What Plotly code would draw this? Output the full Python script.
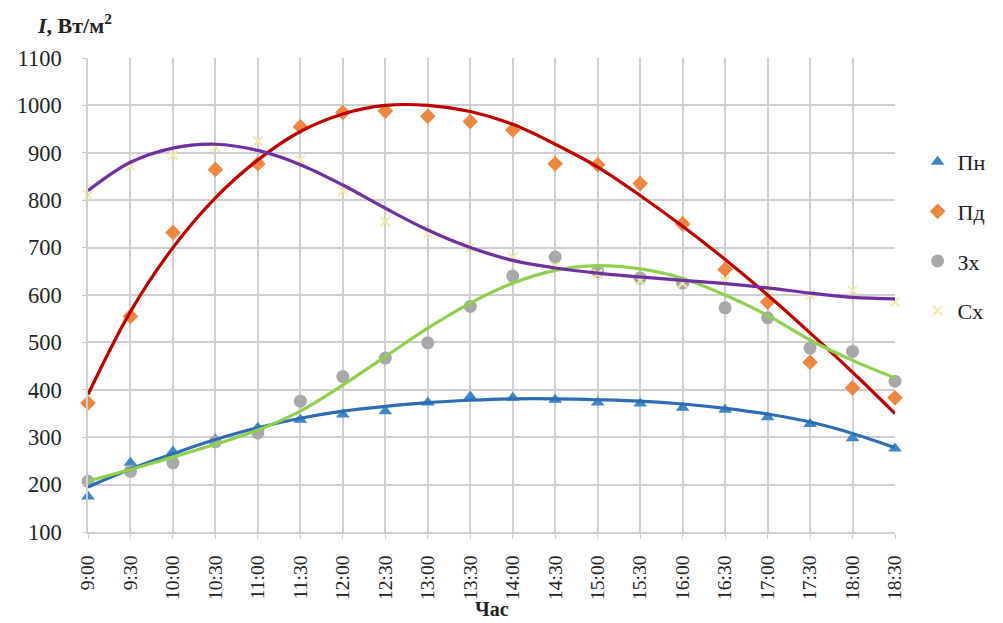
import plotly.graph_objects as go

# Half-hour time slots
times = ["9:00", "9:30", "10:00", "10:30", "11:00", "11:30", "12:00", "12:30",
         "13:00", "13:30", "14:00", "14:30", "15:00", "15:30", "16:00", "16:30",
         "17:00", "17:30", "18:00", "18:30"]

# Measured irradiance, W/m2, per facade orientation
pn = [175, 246, 270, 295, 320, 337, 348, 355, 373, 386, 383, 379, 373, 371, 362, 358,
      342, 328, 298, 276]
pd_ = [372, 555, 732, 865, 877, 955, 985, 988, 977, 966, 948, 877, 875, 835, 750, 654,
       585, 458, 404, 383]
zx = [207, 228, 246, 290, 309, 376, 428, 467, 499, 576, 640, 680, 650, 636, 625, 573,
      552, 488, 481, 418]
sx = [810, 872, 895, 912, 925, 885, 820, 755, 730, 700, 680, 660, 645, 630, 625, 630,
      615, 600, 610, 585]

# Trend curves for each series, W/m2
pn_trend = [195, 233, 265, 295, 320, 340, 355, 365, 373, 378, 381, 381, 379, 376, 370,
            361, 349, 332, 308, 278]
pd_trend = [390, 565, 700, 805, 885, 945, 982, 1000, 1000, 987, 960, 918, 870, 810, 745,
            675, 600, 520, 437, 350]
zx_trend = [207, 232, 258, 285, 315, 355, 410, 470, 530, 583, 625, 652, 662, 655, 635,
            600, 557, 505, 462, 425]
sx_trend = [820, 880, 910, 918, 905, 875, 832, 783, 737, 700, 673, 657, 646, 638, 631,
            624, 615, 604, 595, 592]

names = ["Пн", "Пд", "Зх", "Сх"]
values = [pn, pd_, zx, sx]
trends = [pn_trend, pd_trend, zx_trend, sx_trend]
marker_styles = [
    dict(symbol="triangle-up", size=12, color="#3f86c8"),
    dict(symbol="diamond", size=12, color="#ee8540"),
    dict(symbol="circle", size=13, color="#a8a8a8"),
    dict(symbol="x-thin", size=9, color="#f2eaa8", line=dict(width=2, color="#f2eaa8")),
]
line_colors = ["#2c6db4", "#c00000", "#8fd04c", "#7030a0"]

FONT = "Liberation Serif"
TEXT = "#222222"
GRID = "#cfcfcf"

fig = go.Figure()

for name, vals, ms in zip(names, values, marker_styles):
    fig.add_trace(go.Scatter(
        x=times, y=vals, mode="markers", name=name, marker=ms,
        legendgroup=name, cliponaxis=False,
    ))

for name, tr, col in zip(names, trends, line_colors):
    fig.add_trace(go.Scatter(
        x=times, y=tr, mode="lines",
        line=dict(color=col, width=3.2, shape="spline", smoothing=1.0),
        showlegend=False, legendgroup=name, hoverinfo="skip", cliponaxis=False,
    ))

fig.update_layout(
    width=1003, height=623,
    margin=dict(l=88, r=108, t=58, b=91),
    paper_bgcolor="white", plot_bgcolor="white",
    font=dict(family=FONT, size=21, color=TEXT),
    showlegend=True,
    legend=dict(
        x=1.028, y=0.825, xanchor="left", yanchor="top",
        font=dict(family=FONT, size=22, color=TEXT),
        tracegroupgap=18, bgcolor="rgba(0,0,0,0)",
    ),
    xaxis=dict(
        type="category", range=[0, 19], tickangle=-90,
        showgrid=True, gridcolor=GRID, gridwidth=1.5,
        showline=True, linecolor=GRID, linewidth=1.5,
        ticks="outside", ticklen=5, tickcolor=GRID,
        ticklabelstandoff=9, automargin=False,
        tickfont=dict(family=FONT, size=19.5, color=TEXT),
    ),
    yaxis=dict(
        range=[100, 1100], dtick=100,
        showgrid=True, gridcolor=GRID, gridwidth=1.5,
        showline=True, linecolor=GRID, linewidth=1.5,
        ticks="outside", ticklen=4, tickcolor=GRID,
        ticklabelstandoff=16, automargin=False,
        tickfont=dict(family=FONT, size=22.5, color=TEXT),
        zeroline=False,
    ),
    annotations=[
        dict(
            text="<b><i>I</i>, Вт/м<sup>2</sup></b>",
            xref="paper", yref="paper", x=-0.066, y=1.038, xanchor="left", yanchor="bottom",
            showarrow=False, font=dict(family=FONT, size=22, color=TEXT),
        ),
        dict(
            text="<b>Час</b>",
            xref="paper", yref="paper", x=0.5, y=-0.162, xanchor="center", yanchor="middle",
            showarrow=False, font=dict(family=FONT, size=20, color=TEXT),
        ),
    ],
)

fig.write_html("out.html")
